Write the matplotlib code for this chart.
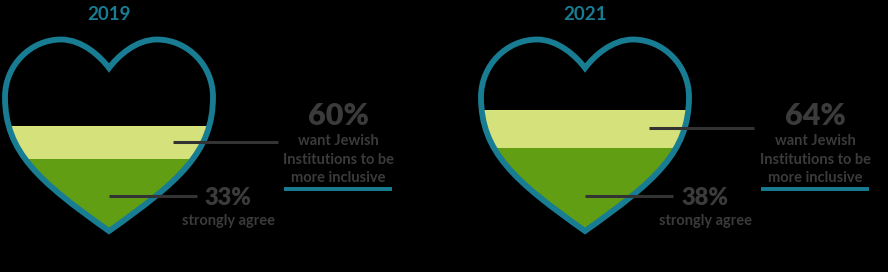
import matplotlib
matplotlib.use("Agg")
import matplotlib.pyplot as plt
from matplotlib.path import Path
from matplotlib.patches import PathPatch

# data
years = ["2019", "2021"]
want_inclusive = [60, 64]           # % want Jewish institutions to be more inclusive
strongly_agree = [33, 38]           # % strongly agree
# fill heights as a fraction of the heart height (as drawn in the picture)
light_level = [0.548, 0.632]
dark_level = [0.376, 0.433]

teal = "#187d93"
light_green = "#d5e27c"
dark_green = "#619e14"
text_gray = "#3b3b3b"

heart_x = [109, 585]      # heart centres
label_x = [338, 815]      # "60%" block centres
agree_x = [228, 705]      # "33%" block centres
top_y, tip_y = 39.5, 231


def heart_path(cx):
    """Heart outline built from cubic curves, in pixel coordinates."""
    pts = [(0, 68),
           (-9, 56), (-27, top_y), (-48, top_y),
           (-78, top_y), (-104, 65), (-104, 97),
           (-104, 152), (-70, 181.5), (0, tip_y),
           (70, 181.5), (104, 152), (104, 97),
           (104, 65), (78, top_y), (48, top_y),
           (27, top_y), (9, 56), (0, 68),
           (0, 68)]
    codes = [Path.MOVETO] + [Path.CURVE4] * 18 + [Path.CLOSEPOLY]
    return Path([(cx + x, y) for x, y in pts], codes)


fig = plt.figure(figsize=(8.88, 2.72), dpi=100, facecolor="black")
ax = fig.add_axes([0, 0, 1, 1])
ax.set_facecolor("black")
ax.set_xlim(0, 888)
ax.set_ylim(272, 0)
ax.axis("off")

for i, year in enumerate(years):
    cx = heart_x[i]
    outline = PathPatch(heart_path(cx), facecolor="none", edgecolor=teal,
                        lw=4.2, zorder=3, joinstyle="miter")
    ax.add_patch(outline)

    # fill bands clipped to the heart
    y_light = tip_y - light_level[i] * (tip_y - top_y)
    y_dark = tip_y - dark_level[i] * (tip_y - top_y)
    clip = PathPatch(heart_path(cx), transform=ax.transData)
    b1 = ax.bar(cx, 245 - y_light, bottom=y_light, width=230,
                color=light_green, zorder=1)
    b2 = ax.bar(cx, 245 - y_dark, bottom=y_dark, width=230,
                color=dark_green, zorder=2)
    for bar in list(b1) + list(b2):
        bar.set_clip_path(clip)

    # year title
    ax.text(cx, 20, year, ha="center", va="baseline", color=teal,
            fontsize=13.5, family="Lato", fontweight="bold")

    # leader lines
    y1 = (y_light + y_dark) / 2 - 1
    ax.plot([cx + 64, cx + 169], [y1, y1], color="#333333", lw=2.2,
            solid_capstyle="butt", zorder=4)
    ax.plot([cx, cx + 88], [196, 196], color="#333333", lw=2.2,
            solid_capstyle="butt", zorder=4)

    # 60% / 64% block
    lx = label_x[i]
    ax.text(lx, 125, f"{want_inclusive[i]}%", ha="center", va="baseline",
            color=text_gray, fontsize=22, family="Lato", fontweight="heavy")
    for txt, yb in zip(["want Jewish", "Institutions to be", "more inclusive"],
                       [145, 164, 182]):
        ax.text(lx, yb, txt, ha="center", va="baseline", color=text_gray,
                fontsize=10.5, family="Lato", fontweight="bold")
    ax.plot([lx - 54, lx + 54], [189, 189], color=teal, lw=2.8,
            solid_capstyle="butt")

    # 33% / 38% block
    ax2x = agree_x[i]
    ax.text(ax2x, 205, f"{strongly_agree[i]}%", ha="center", va="baseline",
            color=text_gray, fontsize=17, family="Lato", fontweight="heavy")
    ax.text(ax2x, 225, "strongly agree", ha="center", va="baseline",
            color=text_gray, fontsize=10.5, family="Lato", fontweight="bold")

fig.savefig("out.png", dpi=100, facecolor="black")
